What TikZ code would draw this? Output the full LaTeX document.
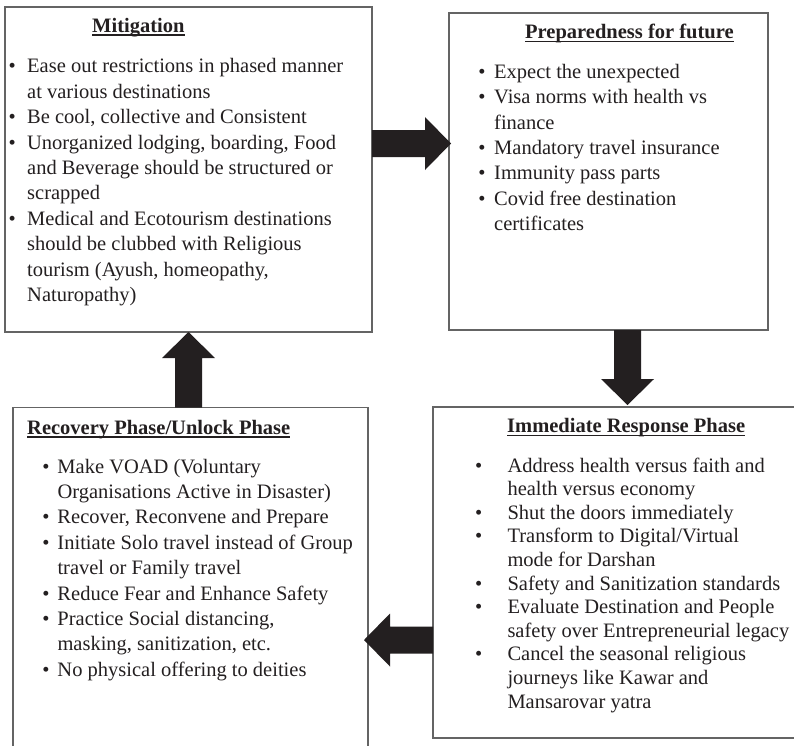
\documentclass[tikz,border=0pt]{standalone}
\usepackage{fontspec}
\setmainfont{Liberation Serif}
\usetikzlibrary{calc}
\definecolor{ink}{RGB}{35,31,32}
\definecolor{edge}{RGB}{100,100,100}
\tikzset{
  panel/.style={draw=edge, line width=1.1pt, inner sep=0pt, outer sep=0pt, anchor=north west},
  head/.style={inner sep=0pt, anchor=base west, text=ink, font=\bfseries\fontsize{20.5pt}{25.4pt}\selectfont},
  body/.style={inner sep=0pt, anchor=base west, text=ink, font=\fontsize{20.5pt}{25.4pt}\selectfont},
  bodytight/.style={body, font=\fontsize{20.5pt}{23.6pt}\selectfont},
  ul/.style={draw=ink, line width=1.5pt},
  blk/.style={fill=ink},
}
\newcommand\bul[1]{\llap{\textbullet\hspace{#1}}}
\newcommand\blockarrow[3]{%
  \coordinate (#3) at ($(#2)!26pt!(#1)$);
  \fill[blk] ($(#1)!13.5pt!90:(#2)$) -- ($(#3)!13.5pt!90:(#2)$) -- ($(#3)!26.5pt!90:(#2)$) -- (#2)
    -- ($(#3)!26.5pt!-90:(#2)$) -- ($(#3)!13.5pt!-90:(#2)$) -- ($(#1)!13.5pt!-90:(#2)$) -- cycle;}
\begin{document}
\begin{tikzpicture}[x=1pt, y=-1pt]
\useasboundingbox (0,0) rectangle (794,745);
\clip (0,0) rectangle (794,745);
\fill[white] (0,0) rectangle (794,745);

% panels
\node[panel, minimum width=367pt, minimum height=325pt] (mit) at (5,7) {};
\node[panel, minimum width=319pt, minimum height=317pt] (prep) at (449,13) {};
\node[panel, minimum width=355pt, minimum height=380pt] (rec) at (13,407.5) {};
\node[panel, minimum width=390pt, minimum height=331pt] (imm) at (433,407) {};

% titles
\node[head] (mitT) at (92,32) {Mitigation};
\node[head] (prepT) at (525,38.5) {Preparedness for future};
\node[head] (recT) at (27,434) {Recovery Phase/Unlock Phase};
\node[head] (immT) at (507,432.5) {Immediate Response Phase};
\foreach \t in {mitT,prepT,recT,immT}
  \draw[ul] ([yshift=-2.8pt]\t.base west) -- ([yshift=-2.8pt]\t.base east);

% lists
\node[body] (mitL) at (27,72.9) {\begin{tabular}[t]{@{}l@{}}
\bul{11.4pt}Ease out restrictions in phased manner\\
at various destinations\\
\bul{11.4pt}Be cool, collective and Consistent\\
\bul{11.4pt}Unorganized lodging, boarding, Food\\
and Beverage should be structured or\\
scrapped\\
\bul{11.4pt}Medical and Ecotourism destinations\\
should be clubbed with Religious\\
tourism (Ayush, homeopathy,\\
Naturopathy)
\end{tabular}};

\node[body] (prepL) at (494,78.3) {\begin{tabular}[t]{@{}l@{}}
\bul{8.7pt}Expect the unexpected\\
\bul{8.7pt}Visa norms with health vs\\
finance\\
\bul{8.7pt}Mandatory travel insurance\\
\bul{8.7pt}Immunity pass parts\\
\bul{8.7pt}Covid free destination\\
certificates
\end{tabular}};

\node[body] (recL) at (57.3,473) {\begin{tabular}[t]{@{}l@{}}
\bul{7.9pt}Make VOAD (Voluntary\\
Organisations Active in Disaster)\\
\bul{7.9pt}Recover, Reconvene and Prepare\\
\bul{7.9pt}Initiate Solo travel instead of Group\\
travel or Family travel\\
\bul{7.9pt}Reduce Fear and Enhance Safety\\
\bul{7.9pt}Practice Social distancing,\\
masking, sanitization, etc.\\
\bul{7.9pt}No physical offering to deities
\end{tabular}};

\node[bodytight] (immL) at (507.3,472) {\begin{tabular}[t]{@{}l@{}}
\bul{25.2pt}Address health versus faith and\\
health versus economy\\
\bul{25.2pt}Shut the doors immediately\\
\bul{25.2pt}Transform to Digital/Virtual\\
mode for Darshan\\
\bul{25.2pt}Safety and Sanitization standards\\
\bul{25.2pt}Evaluate Destination and People\\
safety over Entrepreneurial legacy\\
\bul{25.2pt}Cancel the seasonal religious\\
journeys like Kawar and\\
Mansarovar yatra
\end{tabular}};

% block arrows
\coordinate (ya) at (0,143.5);
\coordinate (a1s) at (mit.east |- ya);
\coordinate (a1e) at ([xshift=2pt]prep.west |- ya);
\blockarrow{a1s}{a1e}{a1h}

\coordinate (xb) at (627.5,0);
\coordinate (a2s) at (xb |- prep.south);
\coordinate (a2e) at ([yshift=2pt]xb |- imm.north);
\blockarrow{a2s}{a2e}{a2h}

\coordinate (yc) at (0,640);
\coordinate (a3s) at (imm.west |- yc);
\coordinate (a3e) at ([xshift=-4pt]rec.east |- yc);
\blockarrow{a3s}{a3e}{a3h}

\coordinate (xd) at (188.5,0);
\coordinate (a4s) at (xd |- rec.north);
\coordinate (a4e) at (xd |- mit.south);
\blockarrow{a4s}{a4e}{a4h}
\end{tikzpicture}
\end{document}
